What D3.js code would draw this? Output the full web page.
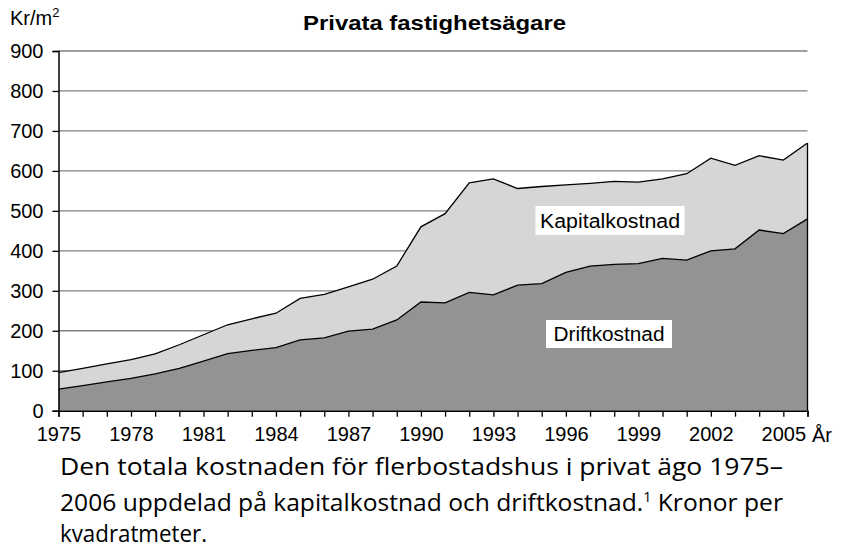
<!DOCTYPE html>
<html>
<head>
<meta charset="utf-8">
<script src="https://cdn.jsdelivr.net/npm/d3@7"></script>
<style>
  body { margin: 0; background: #fff; }
  svg text { font-family: "Liberation Sans", Arial, sans-serif; fill: #000; }
</style>
</head>
<body>
<div id="chart"></div>
<script>
// data (kr per m2)
const YEARS = d3.range(1975, 2007);
const DRIFT = [54, 63, 72, 81, 92, 106, 124, 143, 151, 158, 177, 182, 199, 204, 227, 272,
               270, 296, 290, 314, 318, 346, 362, 366, 368, 381, 377, 400, 405, 452, 443, 480];
const KAPITAL = [41, 43, 45, 47, 50, 59, 66, 72, 79, 86, 104, 109, 111, 125, 135, 188,
                 223, 274, 290, 242, 243, 219, 207, 208, 204, 199, 216, 232, 209, 186, 184, 190];
const X_TICK_LABELS = [1975, 1978, 1981, 1984, 1987, 1990, 1993, 1996, 1999, 2002, 2005];
const Y_TICKS = [0, 100, 200, 300, 400, 500, 600, 700, 800, 900];
const CAPTION = [
  "Den totala kostnaden för flerbostadshus i privat ägo 1975–",
  "2006 uppdelad på kapitalkostnad och driftkostnad.",
  "kvadratmeter."
];

// frame
const WIDTH = 850, HEIGHT = 545;
const PLOT = {left: 58.5, right: 807.5, top: 51, bottom: 410.7};

const svg = d3.select("#chart").append("svg")
  .attr("width", WIDTH)
  .attr("height", HEIGHT);

const x = d3.scaleLinear().domain([1975, 2006]).range([PLOT.left, PLOT.right]);
const y = d3.scaleLinear().domain([0, 900]).range([PLOT.bottom, PLOT.top]);

// gridlines
svg.append("g")
  .selectAll("line")
  .data(Y_TICKS.filter(d => d > 0))
  .enter().append("line")
    .attr("x1", PLOT.left).attr("x2", PLOT.right)
    .attr("y1", d => y(d)).attr("y2", d => y(d))
    .attr("stroke", "#808080")
    .attr("stroke-width", 1.3);

// stacked data
const rows = YEARS.map((yr, i) => ({year: yr, drift: DRIFT[i], kapital: KAPITAL[i]}));
const stack = d3.stack().keys(["drift", "kapital"]);
const series = stack(rows);
const fills = {drift: "#939393", kapital: "#d6d6d6"};

const area = d3.area()
  .x(d => x(d.data.year))
  .y0(d => y(d[0]))
  .y1(d => y(d[1]));

svg.append("g")
  .selectAll("path")
  .data(series)
  .enter().append("path")
    .attr("d", area)
    .attr("fill", d => fills[d.key]);

// outline of each layer
const line = d3.line()
  .x(d => x(d.data.year))
  .y(d => y(d[1]));

svg.append("g")
  .selectAll("path")
  .data(series)
  .enter().append("path")
    .attr("d", line)
    .attr("fill", "none")
    .attr("stroke", "#000")
    .attr("stroke-width", 1.3);

// right edge of the areas
const last = series[1][series[1].length - 1];
svg.append("line")
  .attr("x1", x(2006)).attr("x2", x(2006))
  .attr("y1", y(0)).attr("y2", y(last[1]))
  .attr("stroke", "#000")
  .attr("stroke-width", 1.3);

// y axis
const yAxis = svg.append("g")
  .attr("transform", "translate(" + PLOT.left + ",0)")
  .call(d3.axisLeft(y).tickValues(Y_TICKS).tickSize(6).tickPadding(9));
yAxis.select(".domain").attr("stroke-width", 1.5);
yAxis.selectAll(".tick line").attr("stroke-width", 1.3);
yAxis.selectAll("text")
  .attr("font-size", "20px")
  .attr("font-family", "Liberation Sans, Arial, sans-serif");

// x axis
const xAxis = svg.append("g")
  .attr("transform", "translate(0," + PLOT.bottom + ")")
  .call(d3.axisBottom(x).tickValues(YEARS).tickSize(6).tickPadding(10)
        .tickFormat(d => X_TICK_LABELS.includes(d) ? d : ""));
xAxis.select(".domain").attr("stroke-width", 1.5);
xAxis.selectAll(".tick line").attr("stroke-width", 1.3);
xAxis.selectAll("text")
  .attr("font-size", "20px")
  .attr("font-family", "Liberation Sans, Arial, sans-serif");

// axis titles
svg.append("text")
  .attr("x", 10).attr("y", 25)
  .attr("font-size", "20px")
  .html('Kr/m<tspan dy="-8" font-size="13px">2</tspan>');

svg.append("text")
  .attr("x", 812).attr("y", 442)
  .attr("font-size", "20px")
  .text("År");

// title
svg.append("text")
  .attr("x", 303).attr("y", 30)
  .attr("font-size", "21px")
  .attr("font-weight", "bold")
  .attr("textLength", 263)
  .attr("lengthAdjust", "spacingAndGlyphs")
  .text("Privata fastighetsägare");

// labels in white boxes
const labels = [
  {text: "Kapitalkostnad", cx: 610, cy: 220.5, w: 149, h: 29, tw: 140},
  {text: "Driftkostnad", cx: 609, cy: 334, w: 126, h: 28, tw: 111}
];
const lab = svg.append("g").selectAll("g").data(labels).enter().append("g");
lab.append("rect")
  .attr("x", d => d.cx - d.w / 2).attr("y", d => d.cy - d.h / 2)
  .attr("width", d => d.w).attr("height", d => d.h)
  .attr("fill", "#fff");
lab.append("text")
  .attr("x", d => d.cx - d.tw / 2).attr("y", d => d.cy + 7)
  .attr("font-size", "20px")
  .attr("textLength", d => d.tw)
  .attr("lengthAdjust", "spacingAndGlyphs")
  .text(d => d.text);

// caption below the chart
const cap = svg.append("g");
cap.append("text")
  .attr("x", 60).attr("y", 475)
  .attr("textLength", 723).attr("lengthAdjust", "spacingAndGlyphs")
  .style("font-family", "Open Sans, sans-serif")
  .style("font-size", "24px")
  .text(CAPTION[0]);
const l2 = cap.append("text")
  .attr("x", 60).attr("y", 511)
  .attr("textLength", 723).attr("lengthAdjust", "spacingAndGlyphs")
  .style("font-family", "Open Sans, sans-serif")
  .style("font-size", "24px");
l2.append("tspan").text(CAPTION[1]);
l2.append("tspan").attr("dy", -9).style("font-size", "14px").text("1");
l2.append("tspan").attr("dy", 9).text(" Kronor per");
cap.append("text")
  .attr("x", 60).attr("y", 542)
  .attr("textLength", 147).attr("lengthAdjust", "spacingAndGlyphs")
  .style("font-family", "Open Sans, sans-serif")
  .style("font-size", "24px")
  .text(CAPTION[2]);
</script>
</body>
</html>
